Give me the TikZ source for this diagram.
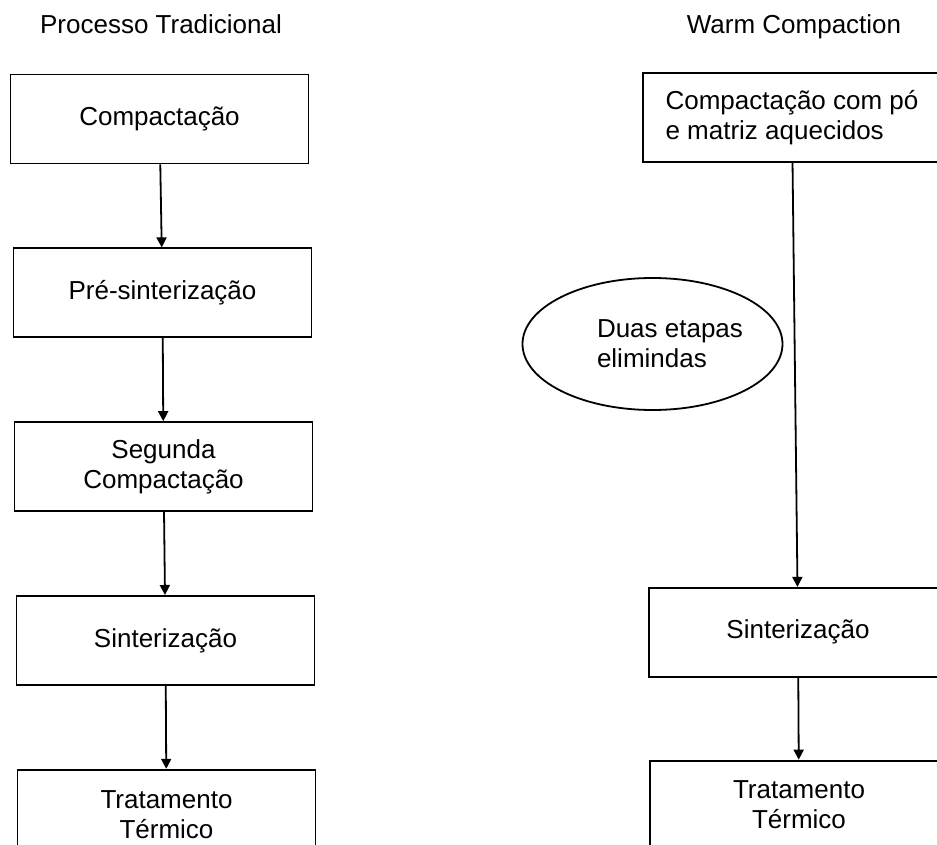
\documentclass[tikz,border=0pt]{standalone}
\usepackage{fontspec}
\setmainfont{Liberation Sans}
\usetikzlibrary{arrows.meta, positioning, shapes.geometric}

\begin{document}
\begin{tikzpicture}[x=0.5pt, y=-0.5pt, node distance=41.5pt,
        every node/.style={font=\fontsize{13}{15}\selectfont, inner sep=2pt},
        etapa/.style={draw, line width=0.9pt, fill=white, minimum width=149pt, minimum height=44.5pt, align=center},
        elipse/.style={draw, ellipse, line width=0.9pt, minimum width=130pt, minimum height=66pt},
        seta/.style={-{Triangle[length=5pt, width=5pt]}, line width=0.9pt}]
        \clip (0,0) rectangle (937,845);

        % Processo tradicional
        \node[anchor=base] (tit1) at (161,34) {Processo Tradicional};
        \node[etapa] (c1) at (159.5,119) {Compactação};
        \node[etapa] (c2) [below=of c1, xshift=1.5pt] {Pré-sinterização};
        \node[etapa] (c3) [below=of c2, xshift=0.5pt] {Segunda\\Compactação};
        \node[etapa] (c4) [below=of c3, xshift=1pt] {Sinterização};
        \node[etapa] (c5) [below=of c4, xshift=0.5pt] {Tratamento\\Térmico};

        \draw[seta] (c1) -- (c2);
        \draw[seta] (c2) -- (c3);
        \draw[seta] (c3) -- (c4);
        \draw[seta] (c4) -- (c5);

        % Warm compaction
        \node[anchor=base] (tit2) at (794,34) {Warm Compaction};
        \node[etapa, align=left] (w1) at (792,117.5) {Compactação com pó\\e matriz aquecidos};
        \node[etapa] (w2) [below=212pt of w1, xshift=3pt] {Sinterização};
        \node[etapa] (w3) [below=41pt of w2, xshift=0.5pt] {Tratamento\\Térmico};

        \draw[seta] (w1) -- (w2);
        \draw[seta] (w2) -- (w3);

        % etapas eliminadas
        \node[elipse] (elim) at (652.5,344) {};
        \node[align=left] (elimtxt) at ([xshift=8.75pt]elim.center) {Duas etapas\\elimindas};
    \end{tikzpicture}
\end{document}
